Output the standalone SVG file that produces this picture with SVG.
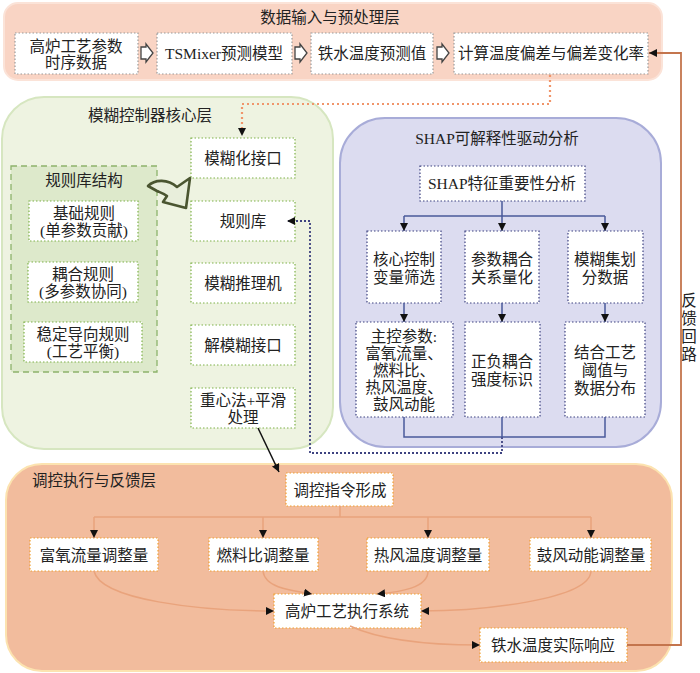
<svg xmlns="http://www.w3.org/2000/svg" width="700" height="673" viewBox="0 0 700 673">
<style>
text{font-family:"Liberation Serif","Noto Sans CJK SC",serif;font-size:15.5px;fill:#222;text-anchor:middle;dominant-baseline:central}
.bx{fill:#fff;stroke-width:1.2;stroke-dasharray:1.5 2}
.g{stroke:#9a9a9a}
.gr{stroke:#7fb24a}
.nv{stroke:#3d4280}
.or{stroke:#f0a030}
.ln{fill:none;stroke:#e9a37c;stroke-width:1.5}
.sl{fill:none;stroke:#4a5a9a;stroke-width:1.5}
.hol{fill:#fff;stroke:#444;stroke-width:1.3}
</style>
<defs>
<marker id="ah" viewBox="0 0 10 10" refX="10" refY="5" markerWidth="8" markerHeight="8" markerUnits="userSpaceOnUse" orient="auto"><path d="M0,0 L10,5 L0,10 z" fill="#111"/></marker>
</defs>

<!-- layers -->
<g id="layer-input">
<rect x="4" y="3" width="658" height="77" rx="14" fill="#f9d4c4" stroke="#fbe3d8" stroke-width="2"/>
<text x="330" y="17">数据输入与预处理层</text>
</g>
<g id="layer-fuzzy">
<rect x="2" y="97" width="331" height="352" rx="42" fill="#eef3e1" stroke="#d6e6c0" stroke-width="2"/>
<text x="150" y="115">模糊控制器核心层</text>
</g>
<g id="layer-shap">
<rect x="340" y="118" width="321" height="329" rx="45" fill="#dcdcf0" stroke="#a8acd8" stroke-width="2"/>
<text x="497" y="138">SHAP可解释性驱动分析</text>
</g>
<g id="layer-exec">
<rect x="6" y="464" width="666" height="207" rx="36" fill="#f2bc9d" stroke="#fce3b0" stroke-width="2"/>
<text x="32" y="480" style="text-anchor:start">调控执行与反馈层</text>
</g>
<g id="rulebase-struct">
<rect x="11" y="166" width="146" height="206" fill="#dde9cb" stroke="#8db36b" stroke-width="1.3" stroke-dasharray="6 4"/>
<text x="84" y="180">规则库结构</text>
</g>

<!-- top nodes -->
<g id="n-data"><rect class="bx g" x="15" y="33" width="123" height="41"/><text x="76" y="46">高炉工艺参数</text><text x="76" y="62">时序数据</text></g>
<g id="n-tsmixer"><rect class="bx g" x="157" y="33" width="135" height="41"/><text x="224" y="53">TSMixer预测模型</text></g>
<g id="n-pred"><rect class="bx g" x="311" y="33" width="122" height="41"/><text x="372" y="53">铁水温度预测值</text></g>
<g id="n-dev"><rect class="bx g" x="454" y="33" width="194" height="41"/><text x="551" y="53">计算温度偏差与偏差变化率</text></g>

<!-- fuzzy nodes -->
<g id="n-basic"><rect class="bx gr" x="29" y="201" width="109" height="40"/><text x="84" y="213">基础规则</text><text x="84" y="230">(单参数贡献)</text></g>
<g id="n-couple"><rect class="bx gr" x="28" y="262" width="110" height="40"/><text x="83" y="274">耦合规则</text><text x="83" y="291">(多参数协同)</text></g>
<g id="n-stable"><rect class="bx gr" x="24" y="322" width="118" height="40"/><text x="83" y="334">稳定导向规则</text><text x="83" y="351">(工艺平衡)</text></g>
<g id="n-fuzzify"><rect class="bx gr" x="191" y="138" width="104" height="40"/><text x="243" y="158">模糊化接口</text></g>
<g id="n-rules"><rect class="bx gr" x="191" y="201" width="104" height="40"/><text x="243" y="221">规则库</text></g>
<g id="n-infer"><rect class="bx gr" x="191" y="263" width="104" height="40"/><text x="243" y="283">模糊推理机</text></g>
<g id="n-defuzz"><rect class="bx gr" x="191" y="325" width="104" height="40"/><text x="243" y="345">解模糊接口</text></g>
<g id="n-centroid"><rect class="bx gr" x="191" y="388" width="104" height="40"/><text x="243" y="400">重心法+平滑</text><text x="243" y="417">处理</text></g>

<!-- shap nodes -->
<g id="n-shapimp"><rect class="bx nv" x="420" y="166" width="165" height="35"/><text x="502" y="183.5">SHAP特征重要性分析</text></g>
<g id="n-core"><rect class="bx nv" x="367" y="231" width="74" height="72"/><text x="404" y="259">核心控制</text><text x="404" y="277">变量筛选</text></g>
<g id="n-coup"><rect class="bx nv" x="465" y="231" width="74" height="72"/><text x="502" y="259">参数耦合</text><text x="502" y="277">关系量化</text></g>
<g id="n-fset"><rect class="bx nv" x="568" y="231" width="75" height="72"/><text x="605" y="259">模糊集划</text><text x="605" y="277">分数据</text></g>
<g id="n-main"><rect class="bx nv" x="356" y="322" width="97" height="95"/><text x="404" y="336">主控参数:</text><text x="404" y="353">富氧流量、</text><text x="404" y="370">燃料比、</text><text x="404" y="387">热风温度、</text><text x="404" y="404">鼓风动能</text></g>
<g id="n-posneg"><rect class="bx nv" x="465" y="322" width="75" height="95"/><text x="502" y="361">正负耦合</text><text x="502" y="379">强度标识</text></g>
<g id="n-thresh"><rect class="bx nv" x="565" y="322" width="80" height="95"/><text x="605" y="352">结合工艺</text><text x="605" y="370">阈值与</text><text x="605" y="388">数据分布</text></g>

<!-- exec nodes -->
<g id="n-cmd"><rect class="bx or" x="286" y="473" width="107" height="33"/><text x="340" y="490">调控指令形成</text></g>
<g id="n-o2"><rect class="bx or" x="30" y="538" width="128" height="33"/><text x="94" y="555">富氧流量调整量</text></g>
<g id="n-fuel"><rect class="bx or" x="209" y="538" width="109" height="33"/><text x="263" y="555">燃料比调整量</text></g>
<g id="n-hot"><rect class="bx or" x="367" y="538" width="122" height="33"/><text x="428" y="555">热风温度调整量</text></g>
<g id="n-blast"><rect class="bx or" x="530" y="538" width="121" height="33"/><text x="591" y="555">鼓风动能调整量</text></g>
<g id="n-execsys"><rect class="bx or" x="274" y="594" width="147" height="34"/><text x="347" y="611">高炉工艺执行系统</text></g>
<g id="n-resp"><rect class="bx or" x="480" y="628" width="147" height="34"/><text x="553" y="645">铁水温度实际响应</text></g>

<text x="689" y="300">反</text>
<text x="689" y="318">馈</text>
<text x="689" y="336">回</text>
<text x="689" y="354">路</text>

<!-- connectors -->
<g id="connectors">
<polygon class="hol" points="141,47 146,47 146,44 153,53 146,62 146,59 141,59"/>
<polygon class="hol" points="295,47 300,47 300,44 307,53 300,62 300,59 295,59"/>
<polygon class="hol" points="437,47 442,47 442,44 449,53 442,62 442,59 437,59"/>
<path d="M148,186 C155,179 168,179 177,187 L190,178 L186,208 L163,202 L167,196 C163,193 159,192 157,191 L148,186 Z" fill="#e8eedb" stroke="#4a5530" stroke-width="2.6" stroke-linejoin="round"/>
<path d="M550,75 V104 H242 V136" fill="none" stroke="#f0956a" stroke-width="2.2" stroke-dasharray="2 3" marker-end="url(#ah)"/>
<path d="M502,437 V453 H310 V221 H287" fill="none" stroke="#3d4280" stroke-width="1.8" stroke-dasharray="2 2" marker-end="url(#ah)"/>
<path class="sl" d="M502,201 V216"/>
<path class="sl" d="M404,216 H605"/>
<path class="sl" d="M404,216 V231" marker-end="url(#ah)"/>
<path class="sl" d="M502,216 V231" marker-end="url(#ah)"/>
<path class="sl" d="M605,216 V231" marker-end="url(#ah)"/>
<path class="sl" d="M404,303 V322" marker-end="url(#ah)"/>
<path class="sl" d="M502,303 V322" marker-end="url(#ah)"/>
<path class="sl" d="M605,303 V322" marker-end="url(#ah)"/>
<path class="sl" d="M404,417 V437 H605 V417 M502,417 V437"/>
<path d="M258,428 L279,472" fill="none" stroke="#111" stroke-width="1.5" marker-end="url(#ah)"/>
<path class="ln" d="M340,506 V517"/>
<path class="ln" d="M94,517 H591"/>
<path class="ln" d="M94,517 V538" marker-end="url(#ah)"/>
<path class="ln" d="M263,517 V538" marker-end="url(#ah)"/>
<path class="ln" d="M428,517 V538" marker-end="url(#ah)"/>
<path class="ln" d="M591,517 V538" marker-end="url(#ah)"/>
<path class="ln" d="M94,571 C100,600 200,611 274,611" marker-end="url(#ah)"/>
<path class="ln" d="M263,571 C265,589 295,591 312,594" marker-end="url(#ah)"/>
<path class="ln" d="M428,571 C428,588 400,592 377,594" marker-end="url(#ah)"/>
<path class="ln" d="M591,571 C590,600 480,611 421,611" marker-end="url(#ah)"/>
<path class="ln" d="M350,626 C380,640 430,645 480,645" marker-end="url(#ah)"/>
<path d="M627,645 H681 V53 H649" fill="none" stroke="#c4754d" stroke-width="1.8" marker-end="url(#ah)"/>
</g>
</svg>
